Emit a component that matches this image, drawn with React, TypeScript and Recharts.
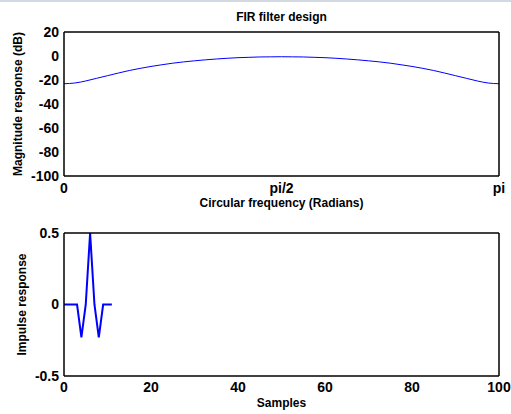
import React from 'react';
import { LineChart, Line, XAxis, YAxis } from 'recharts';

// frequency in units of pi
const freqs = [
  0, 0.025, 0.05, 0.075, 0.1, 0.125, 0.15, 0.175, 0.2, 0.225, 0.25, 0.275, 0.3, 0.325, 0.35, 0.375, 0.4, 0.425, 0.45, 0.475,
  0.5, 0.525, 0.55, 0.575, 0.6, 0.625, 0.65, 0.675, 0.7, 0.725, 0.75, 0.775, 0.8, 0.825, 0.85, 0.875, 0.9, 0.925, 0.95, 0.975, 1,
];
const magDb = [
  -23.1, -22.5, -20.8, -18.6, -16.4, -14.2, -12.1, -10.3, -8.7, -7.3, -6.0, -4.9, -4.0, -3.2, -2.5, -1.9, -1.4, -1.1, -0.8, -0.7,
  -0.6, -0.7, -0.8, -1.1, -1.4, -1.9, -2.5, -3.2, -4.0, -4.9, -6.0, -7.3, -8.7, -10.3, -12.1, -14.2, -16.4, -18.6, -20.8, -22.5, -23.1,
];
const freqTicks = [0, 0.5, 1];
const freqTickLabels = ['0', 'pi/2', 'pi'];
const magTicks = [-100, -80, -60, -40, -20, 0, 20];

const samples = [0, 1, 2, 3, 4, 5, 6, 7, 8, 9, 10, 11];
const impulse = [0, 0, 0, 0, -0.23, 0, 0.5, 0, -0.23, 0, 0, 0];
const sampleTicks = [0, 20, 40, 60, 80, 100];
const impulseTicks = [-0.5, 0, 0.5];

const magData = freqs.map((w, i) => ({ w, db: magDb[i] }));
const impData = samples.map((n, i) => ({ n, h: impulse[i] }));

const FONT = '"Liberation Sans", Arial, Helvetica, sans-serif';
const tickStyle = { fontSize: 14, fontWeight: 700, fill: '#000', fontFamily: FONT };
const labelStyle = { fontSize: 12, fontWeight: 700, fill: '#000', fontFamily: FONT };
const axisLine = { stroke: '#000', strokeWidth: 1.5 };
const tickLine = { stroke: '#000', strokeWidth: 1 };

// MATLAB-like box: labelled axes outside, mirrored axes for inward ticks and the other two sides
function boxAxes(xKey: string, xDomain: number[], xTicks: number[], yDomain: number[], yTicks: number[]) {
  return [
    <XAxis key="xin" xAxisId="xin" dataKey={xKey} type="number" domain={xDomain} ticks={xTicks} mirror
      tick={false} tickSize={5} axisLine={false} tickLine={tickLine} interval={0} />,
    <XAxis key="xtop" xAxisId="xtop" orientation="top" dataKey={xKey} type="number" domain={xDomain} ticks={xTicks} mirror
      tick={false} tickSize={5} axisLine={axisLine} tickLine={tickLine} interval={0} />,
    <YAxis key="yin" yAxisId="yin" type="number" domain={yDomain} ticks={yTicks} mirror
      tick={false} tickSize={5} axisLine={false} tickLine={tickLine} interval={0} />,
    <YAxis key="yright" yAxisId="yright" orientation="right" type="number" domain={yDomain} ticks={yTicks} mirror
      tick={false} tickSize={5} axisLine={axisLine} tickLine={tickLine} interval={0} />,
  ];
}

export default function App() {
  return (
    <div
      style={{
        position: 'absolute',
        left: 0,
        top: 0,
        width: 511,
        height: 414,
        background: '#fff',
        overflow: 'hidden',
        fontFamily: FONT,
      }}
    >
      <div style={{ position: 'absolute', left: 0, top: 0, width: 511, height: 2, background: '#d3d9e3' }} />
      <div
        style={{
          position: 'absolute',
          left: 64,
          width: 435,
          top: 9,
          textAlign: 'center',
          fontSize: 12,
          fontWeight: 700,
          lineHeight: '16px',
        }}
      >
        FIR filter design
      </div>

      <div style={{ position: 'absolute', left: 0, top: 0 }}>
        <LineChart width={511} height={210} data={magData} margin={{ top: 32, right: 12, bottom: 0, left: 0 }}>
          <XAxis
            xAxisId="bottom"
            dataKey="w"
            type="number"
            domain={[0, 1]}
            ticks={freqTicks}
            tickFormatter={(v: number) => freqTickLabels[freqTicks.indexOf(v)]}
            height={34}
            tickSize={0}
            tickMargin={7}
            tick={tickStyle}
            axisLine={axisLine}
            tickLine={false}
            interval={0}
            label={{ value: 'Circular frequency (Radians)', position: 'center', dy: 10, style: labelStyle }}
          />
          <YAxis
            yAxisId="left"
            type="number"
            domain={[-100, 20]}
            ticks={magTicks}
            width={64}
            tickSize={0}
            tickMargin={5}
            tick={tickStyle}
            axisLine={axisLine}
            tickLine={false}
            interval={0}
            label={{ value: 'Magnitude response (dB)', angle: -90, position: 'center', dx: -14, style: labelStyle }}
          />
          {boxAxes('w', [0, 1], freqTicks, [-100, 20], magTicks)}
          <Line
            xAxisId="bottom"
            yAxisId="left"
            dataKey="db"
            type="monotone"
            stroke="#0000ff"
            strokeWidth={1}
            dot={false}
            isAnimationActive={false}
          />
        </LineChart>
      </div>

      <div style={{ position: 'absolute', left: 0, top: 200 }}>
        <LineChart width={511} height={214} data={impData} margin={{ top: 33, right: 12, bottom: 0, left: 0 }}>
          <XAxis
            xAxisId="bottom"
            dataKey="n"
            type="number"
            domain={[0, 100]}
            ticks={sampleTicks}
            height={38}
            tickSize={0}
            tickMargin={6}
            tick={tickStyle}
            axisLine={axisLine}
            tickLine={false}
            interval={0}
            label={{ value: 'Samples', position: 'center', dy: 8, style: labelStyle }}
          />
          <YAxis
            yAxisId="left"
            type="number"
            domain={[-0.5, 0.5]}
            ticks={impulseTicks}
            width={64}
            tickSize={0}
            tickMargin={5}
            tick={tickStyle}
            axisLine={axisLine}
            tickLine={false}
            interval={0}
            label={{ value: 'Impulse response', angle: -90, position: 'center', dx: -10, style: labelStyle }}
          />
          {boxAxes('n', [0, 100], sampleTicks, [-0.5, 0.5], impulseTicks)}
          <Line
            xAxisId="bottom"
            yAxisId="left"
            dataKey="h"
            type="linear"
            stroke="#0000ff"
            strokeWidth={2}
            dot={false}
            isAnimationActive={false}
          />
        </LineChart>
      </div>
    </div>
  );
}
